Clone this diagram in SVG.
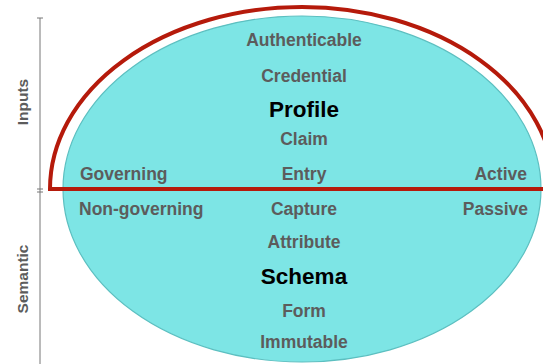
<svg xmlns="http://www.w3.org/2000/svg" width="543" height="364" viewBox="0 0 543 364">
<style>
.t{font-family:"Liberation Sans",Arial,sans-serif;font-weight:bold;font-size:17.5px;fill:#5c5c5c}
.big{font-family:"Liberation Sans",Arial,sans-serif;font-weight:bold;font-size:22.5px;fill:#000}
.ax{font-family:"Liberation Sans",Arial,sans-serif;font-weight:bold;font-size:15.5px;fill:#5c5c5c}
.axis{stroke:#777;stroke-width:1;fill:none}
</style>
<rect width="543" height="364" fill="#fff"/>
<g id="axis">
<line class="axis" x1="40" y1="18" x2="40" y2="364"/>
<line class="axis" x1="37" y1="18" x2="43" y2="18"/>
<line class="axis" x1="37" y1="189" x2="43" y2="189"/>
<line class="axis" x1="37" y1="192" x2="43" y2="192"/>
<text class="ax" transform="translate(28,102) rotate(-90)" text-anchor="middle">Inputs</text>
<text class="ax" transform="translate(28,279) rotate(-90)" text-anchor="middle">Semantic</text>
</g>
<g id="ellipse">
<ellipse cx="302" cy="189" rx="239" ry="173" fill="#7de5e5" stroke="#5cbfc0" stroke-width="1.2"/>
</g>
<g id="connectors">
<path d="M50,189 A252,182 0 0 1 554,189 Z" fill="none" stroke="#b51a0b" stroke-width="4"/>
</g>
<g id="labels">
<text class="t" x="304" y="46" text-anchor="middle">Authenticable</text>
<text class="t" x="304" y="82" text-anchor="middle">Credential</text>
<text class="big" x="304" y="117" text-anchor="middle">Profile</text>
<text class="t" x="304" y="145" text-anchor="middle">Claim</text>
<text class="t" x="304" y="180" text-anchor="middle">Entry</text>
<text class="t" x="304" y="215" text-anchor="middle">Capture</text>
<text class="t" x="304" y="248" text-anchor="middle">Attribute</text>
<text class="big" x="304" y="284" text-anchor="middle">Schema</text>
<text class="t" x="304" y="317" text-anchor="middle">Form</text>
<text class="t" x="304" y="348" text-anchor="middle">Immutable</text>
<text class="t" x="80" y="180">Governing</text>
<text class="t" x="79" y="215">Non-governing</text>
<text class="t" x="527" y="180" text-anchor="end">Active</text>
<text class="t" x="528" y="215" text-anchor="end">Passive</text>
</g>
</svg>
